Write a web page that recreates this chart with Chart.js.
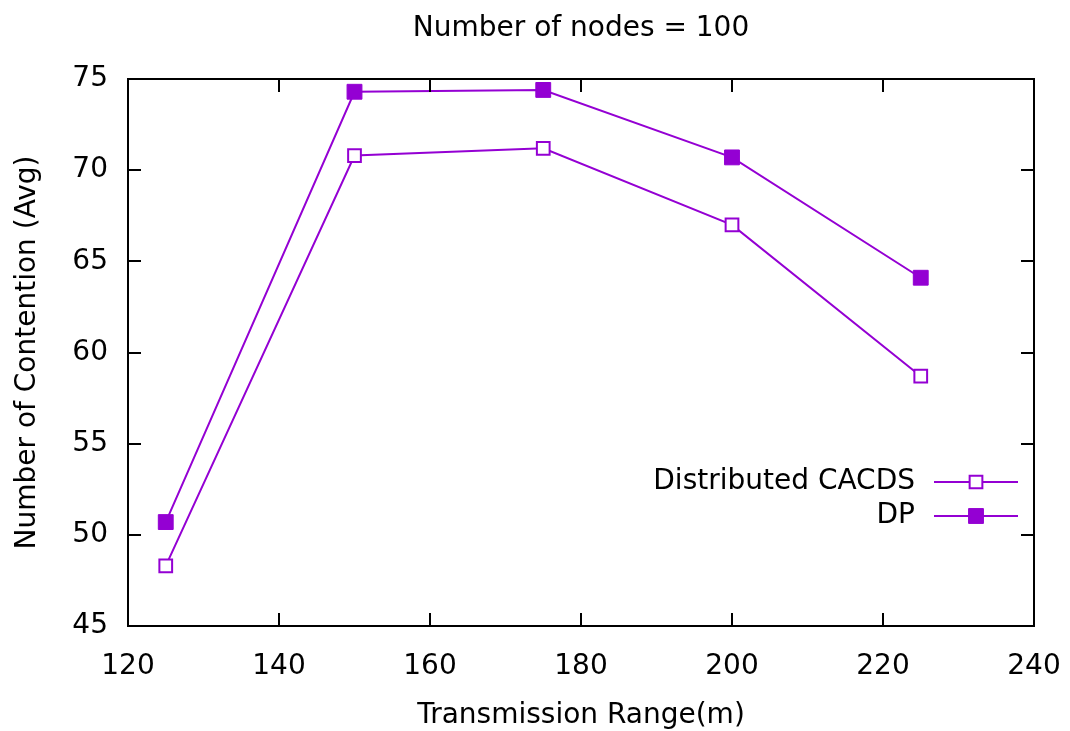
<!DOCTYPE html>
<html>
<head>
<meta charset="utf-8">
<title>Number of nodes = 100</title>
<script src="https://cdn.jsdelivr.net/npm/chart.js@4.4.1/dist/chart.umd.min.js"></script>
<style>
  html, body { margin: 0; padding: 0; background: #ffffff; }
  #wrap { width: 1070px; height: 731px; }
</style>
</head>
<body>
<div id="wrap"><canvas id="c"></canvas></div>
<script>
// Transmission range (m) on the x axis
const ranges = [125, 150, 175, 200, 225];
// Average number of contentions per scheme
const cacds = [48.3, 70.8, 71.2, 67.0, 58.7];
const dp = [50.7, 74.3, 74.4, 70.7, 64.1];
// Axis tick values
const xTicks = [120, 140, 160, 180, 200, 220, 240];
const yTicks = [45, 50, 55, 60, 65, 70, 75];
const chartTitle = 'Number of nodes = 100';

const violet = '#9400D3';
const FONT = { family: '"DejaVu Sans", Verdana, sans-serif', size: 28 };

// Title centred over the plot area rather than the whole canvas
const plotTitlePlugin = {
  id: 'plotTitle',
  afterDraw(chart) {
    const { ctx, chartArea: a } = chart;
    ctx.save();
    ctx.font = `${FONT.size}px ${FONT.family}`;
    ctx.fillStyle = '#000';
    ctx.textAlign = 'center';
    ctx.textBaseline = 'middle';
    ctx.fillText(chartTitle, (a.left + a.right) / 2, 29);
    ctx.restore();
  }
};

// Frame around the plot area with inward ticks on all four sides
const framePlugin = {
  id: 'frame',
  afterDatasetsDraw(chart) {
    const { ctx, chartArea: a, scales } = chart;
    const tl = 13;
    ctx.save();
    ctx.strokeStyle = '#000';
    ctx.lineWidth = 2;
    ctx.beginPath();
    for (const v of xTicks) {
      const px = Math.round(scales.x.getPixelForValue(v));
      ctx.moveTo(px, a.bottom); ctx.lineTo(px, a.bottom - tl);
      ctx.moveTo(px, a.top); ctx.lineTo(px, a.top + tl);
    }
    for (const v of yTicks) {
      const py = Math.round(scales.y.getPixelForValue(v));
      ctx.moveTo(a.left, py); ctx.lineTo(a.left + tl, py);
      ctx.moveTo(a.right, py); ctx.lineTo(a.right - tl, py);
    }
    ctx.stroke();
    ctx.strokeRect(a.left, a.top, a.right - a.left, a.bottom - a.top);
    ctx.restore();
  }
};

// Key in the lower right of the plot: label, then a line sample with its marker
const keyPlugin = {
  id: 'key',
  afterDraw(chart) {
    const { ctx } = chart;
    const rows = [
      { ds: chart.data.datasets[0], y: 482 },
      { ds: chart.data.datasets[1], y: 516 }
    ];
    ctx.save();
    ctx.font = `${FONT.size}px ${FONT.family}`;
    ctx.textAlign = 'right';
    ctx.textBaseline = 'middle';
    for (const r of rows) {
      ctx.fillStyle = '#000';
      ctx.fillText(r.ds.label, 915, r.y);
      ctx.strokeStyle = r.ds.borderColor;
      ctx.lineWidth = 2;
      ctx.beginPath();
      ctx.moveTo(934, r.y); ctx.lineTo(1018, r.y);
      ctx.stroke();
      ctx.fillStyle = r.ds.pointBackgroundColor;
      ctx.strokeStyle = r.ds.pointBorderColor;
      ctx.lineWidth = r.ds.pointBorderWidth;
      const s = r.ds.pointRadius * Math.SQRT1_2;
      ctx.beginPath();
      ctx.rect(976 - s, r.y - s, 2 * s, 2 * s);
      ctx.fill();
      ctx.stroke();
    }
    ctx.restore();
  }
};

new Chart(document.getElementById('c'), {
  type: 'line',
  data: {
    datasets: [
      {
        label: 'Distributed CACDS',
        data: ranges.map((x, i) => ({ x, y: cacds[i] })),
        borderColor: violet,
        borderWidth: 2,
        pointStyle: 'rect',
        pointRadius: 9,
        pointBorderWidth: 2,
        pointBackgroundColor: '#ffffff',
        pointBorderColor: violet,
        tension: 0
      },
      {
        label: 'DP',
        data: ranges.map((x, i) => ({ x, y: dp[i] })),
        borderColor: violet,
        borderWidth: 2,
        pointStyle: 'rect',
        pointRadius: 10.5,
        pointBorderWidth: 1,
        pointBackgroundColor: violet,
        pointBorderColor: violet,
        tension: 0
      }
    ]
  },
  options: {
    responsive: true,
    maintainAspectRatio: false,
    animation: false,
    layout: { padding: { left: 0, right: 36, top: 79, bottom: 0 } },
    plugins: {
      legend: { display: false },
      tooltip: { enabled: false },
      title: { display: false }
    },
    scales: {
      x: {
        type: 'linear',
        min: 120,
        max: 240,
        afterBuildTicks(scale) { scale.ticks = xTicks.map(v => ({ value: v })); },
        afterFit(scale) { scale.height = 105; scale.paddingLeft = 0; scale.paddingRight = 0; },
        grid: { display: false, drawTicks: false },
        border: { display: false },
        ticks: { color: '#000', font: FONT, padding: 24, maxRotation: 0, autoSkip: false },
        title: {
          display: true,
          text: 'Transmission Range(m)',
          color: '#000',
          font: FONT,
          padding: { top: 0, bottom: -2 }
        }
      },
      y: {
        type: 'linear',
        min: 45,
        max: 75,
        afterBuildTicks(scale) { scale.ticks = yTicks.map(v => ({ value: v })); },
        afterFit(scale) { scale.width = 128; scale.paddingTop = 0; scale.paddingBottom = 0; },
        grid: { display: false, drawTicks: false },
        border: { display: false },
        ticks: { color: '#000', font: FONT, padding: 20, autoSkip: false },
        title: {
          display: true,
          text: 'Number of Contention (Avg)',
          color: '#000',
          font: FONT,
          padding: { top: 11, bottom: 0 }
        }
      }
    }
  },
  plugins: [framePlugin, keyPlugin, plotTitlePlugin]
});
</script>
</body>
</html>
